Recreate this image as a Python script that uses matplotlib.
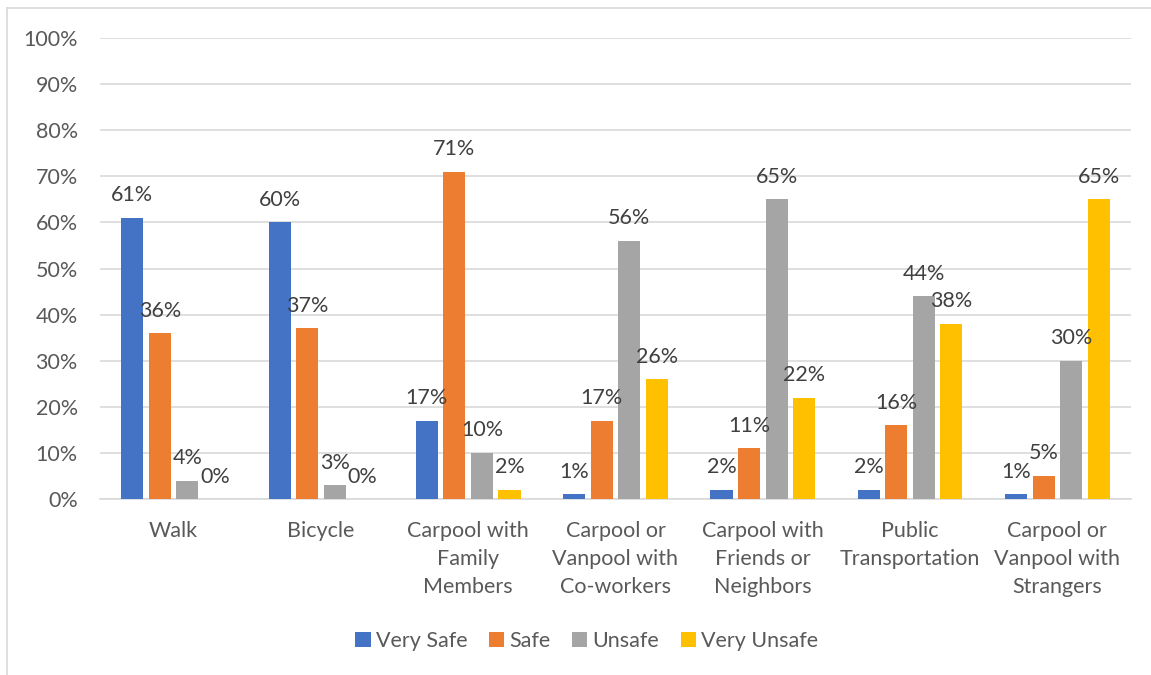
import numpy as np
import matplotlib.pyplot as plt
from matplotlib.lines import Line2D

categories = ["Walk", "Bicycle", "Carpool with\nFamily\nMembers", "Carpool or\nVanpool with\nCo-workers",
              "Carpool with\nFriends or\nNeighbors", "Public\nTransportation", "Carpool or\nVanpool with\nStrangers"]
series_names = ["Very Safe", "Safe", "Unsafe", "Very Unsafe"]
very_safe = [61, 60, 17, 1, 2, 2, 1]
safe = [36, 37, 71, 17, 11, 16, 5]
unsafe = [4, 3, 10, 56, 65, 44, 30]
very_unsafe = [0, 0, 2, 26, 22, 38, 65]
colors = ["#4472C4", "#ED7D31", "#A5A5A5", "#FFC000"]

plt.rcParams['font.family'] = ['Lato', 'DejaVu Sans']
text_col = "#595959"
fs = 15.5

fig = plt.figure(figsize=(11.51, 6.75), dpi=100)
ax = fig.add_axes([0.0869, 0.2607, 0.8957, 0.683])

x = np.arange(len(categories))
step = 0.187
width = 0.15
for i, (vals, name) in enumerate(zip([very_safe, safe, unsafe, very_unsafe], series_names)):
    pos = x + (i - 1.5) * step
    ax.bar(pos, vals, width, color=colors[i], label=name, zorder=3)
    for p, v in zip(pos, vals):
        ax.annotate(f"{v}%", (p, v), xytext=(0, 9), textcoords="offset points",
                    ha="center", va="bottom", fontsize=fs, color="#404040", zorder=4)

ax.set_ylim(0, 100)
ax.set_xlim(-0.5, len(categories) - 0.5)
ax.set_yticks(range(0, 101, 10))
ax.set_yticklabels([f"{t}%" for t in range(0, 101, 10)])
ax.set_xticks(x)
ax.set_xticklabels(categories, linespacing=1.5)
ax.tick_params(axis="both", length=0, labelsize=fs, labelcolor=text_col)
ax.tick_params(axis="y", pad=16)
ax.tick_params(axis="x", pad=16)
ax.grid(axis="y", color="#D9D9D9", linewidth=1.2, zorder=0)
for s in ["left", "right", "top"]:
    ax.spines[s].set_visible(False)
ax.spines["bottom"].set_color("#D9D9D9")
ax.spines["bottom"].set_linewidth(1.2)

fig.legend(loc="center", bbox_to_anchor=(0.51, 1 - 641 / 675), ncol=4, frameon=False,
           fontsize=fs, labelcolor=text_col, handlelength=0.7, handleheight=0.7,
           handletextpad=0.25, columnspacing=1.0)

# chart border (only top and left edges are visible in the reference)
fig.add_artist(Line2D([7 / 1151, 7 / 1151], [0, 1 - 8 / 675], transform=fig.transFigure, color="#D9D9D9", lw=1.2))
fig.add_artist(Line2D([7 / 1151, 1], [1 - 8 / 675, 1 - 8 / 675], transform=fig.transFigure, color="#D9D9D9", lw=1.2))

fig.savefig("out.png", dpi=100)
